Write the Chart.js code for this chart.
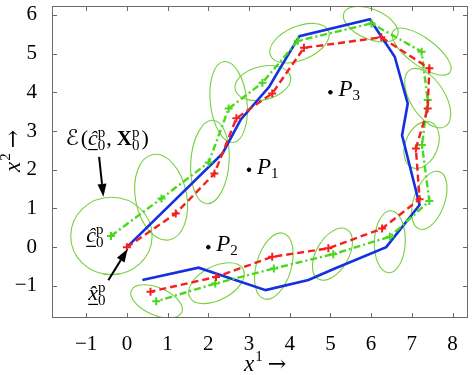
<!DOCTYPE html>
<html>
<head>
<meta charset="utf-8">
<script src="https://cdn.jsdelivr.net/npm/chart.js@4.4.1/dist/chart.umd.min.js"></script>
<style>
  html, body { margin: 0; padding: 0; background: #fff; }
</style>
</head>
<body>
<canvas id="chart" width="474" height="375"></canvas>
<script>
// tick labels
const xTicks = [-1, 0, 1, 2, 3, 4, 5, 6, 7, 8];
const yTicks = [-1, 0, 1, 2, 3, 4, 5, 6];

// true trajectory (blue)
const blueX = [0, 2.35, 2.8, 3.5, 3.75, 4.24, 5.97, 6.58, 6.9, 6.76, 7.19, 6.37, 5.11, 4.46, 3.41, 1.76, 0.38];
const blueY = [0, 2.42, 3.3, 4.15, 4.6, 5.45, 5.89, 4.92, 3.71, 2.89, 1.09, 0.0, -0.55, -0.85, -1.11, -0.53, -0.85];

// estimate (red, dashed)
const redX = [0, 1.2, 2.15, 2.69, 3.57, 4.35, 6.25, 7.43, 7.39, 7.1, 7.19, 6.27, 4.95, 3.57, 2.19, 0.58];
const redY = [0, 0.87, 1.9, 3.33, 3.97, 5.15, 5.42, 4.62, 3.58, 2.55, 1.24, 0.48, -0.03, -0.25, -0.77, -1.15];

// ellipse centres (green, dash-dot)
const greenX = [-0.39, 0.85, 2.01, 2.5, 3.33, 4.2, 6.01, 7.24, 7.39, 7.25, 7.43, 6.46, 5.07, 3.61, 2.17, 0.72];
const greenY = [0.29, 1.26, 2.19, 3.58, 4.25, 5.33, 5.78, 5.05, 3.8, 2.64, 1.19, 0.27, -0.18, -0.55, -0.94, -1.4];

// uncertainty ellipses: centre, half axes, angle (deg)
const ellCx = [-0.38, 0.84, 2.04, 2.5, 3.34, 4.24, 5.99, 7.24, 7.39, 7.24, 7.43, 6.46, 5.05, 3.61, 2.2, 0.73];
const ellCy = [0.29, 1.29, 2.2, 3.75, 4.24, 5.27, 5.76, 5.05, 3.85, 2.64, 1.21, 0.14, -0.18, -0.49, -0.93, -1.4];
const ellA = [1.0, 1.12, 1.08, 1.05, 0.7, 0.78, 0.72, 0.88, 0.85, 0.63, 0.78, 0.8, 0.73, 0.88, 0.75, 0.68];
const ellB = [1.0, 0.63, 0.47, 0.45, 0.43, 0.43, 0.38, 0.35, 0.43, 0.4, 0.38, 0.38, 0.4, 0.43, 0.43, 0.35];
const ellAng = [0, 100, 86, 96, 15, 25, -25, -38, -60, 70, 72, 88, 62, 75, 30, -25];

// marked points
const pointNames = ["1", "2", "3"];
const pointX = [3, 2, 5];
const pointY = [2, 0, 4];

const SERIF = '"Liberation Serif", "DejaVu Serif", "DejaVu Sans", serif';
const ARROWFONT = '"DejaVu Serif", "DejaVu Sans", serif';
const BLUE = "#1530e0";
const RED = "#f42020";
const GREEN = "#48d81c";
const ELLIPSE = "#78d040";

const toXY = (xs, ys) => xs.map((v, i) => ({ x: v, y: ys[i] }));

function richText(ctx, x, y, parts) {
  let cx = x;
  for (const p of parts) {
    ctx.font = p.font;
    const w = ctx.measureText(p.t).width;
    ctx.fillText(p.t, cx + (p.dx || 0), y + (p.dy || 0));
    if (p.ul) {
      ctx.fillRect(cx + (p.dx || 0), y + p.ul, w, 1.2);
    }
    if (!p.stay) cx += w + (p.dx || 0);
  }
  return cx;
}

function arrow(ctx, x0, y0, x1, y1) {
  const ang = Math.atan2(y1 - y0, x1 - x0);
  const len = 13, half = 4.5;
  const bx = x1 - len * Math.cos(ang), by = y1 - len * Math.sin(ang);
  ctx.beginPath();
  ctx.moveTo(x0, y0);
  ctx.lineTo(bx, by);
  ctx.stroke();
  ctx.beginPath();
  ctx.moveTo(x1, y1);
  ctx.lineTo(bx + half * Math.sin(ang), by - half * Math.cos(ang));
  ctx.lineTo(bx - half * Math.sin(ang), by + half * Math.cos(ang));
  ctx.closePath();
  ctx.fill();
}

const ellipsePlugin = {
  id: "ellipses",
  beforeDatasetsDraw(chart) {
    const { ctx, chartArea: a, scales: { x, y } } = chart;
    const sx = x.getPixelForValue(1) - x.getPixelForValue(0);
    const sy = y.getPixelForValue(0) - y.getPixelForValue(1);
    ctx.save();
    ctx.beginPath();
    ctx.rect(a.left, a.top, a.right - a.left, a.bottom - a.top);
    ctx.clip();
    ctx.strokeStyle = ELLIPSE;
    ctx.lineWidth = 1.1;
    ellCx.forEach((cx, i) => {
      ctx.save();
      ctx.translate(x.getPixelForValue(cx), y.getPixelForValue(ellCy[i]));
      ctx.scale(sx, -sy);
      ctx.rotate((ellAng[i] * Math.PI) / 180);
      ctx.beginPath();
      ctx.ellipse(0, 0, ellA[i], ellB[i], 0, 0, 2 * Math.PI);
      ctx.restore();
      ctx.stroke();
    });
    ctx.restore();
  },
};

const framePlugin = {
  id: "frame",
  afterDraw(chart) {
    const { ctx, chartArea: a, scales: { x, y } } = chart;
    ctx.save();
    ctx.strokeStyle = "#6a6a6a";
    ctx.lineWidth = 1;
    ctx.strokeRect(a.left + 0.5, a.top + 0.5, a.right - a.left - 1, a.bottom - a.top - 1);
    ctx.beginPath();
    xTicks.forEach((v) => {
      const px = Math.round(x.getPixelForValue(v)) + 0.5;
      ctx.moveTo(px, a.bottom);
      ctx.lineTo(px, a.bottom - 5);
      ctx.moveTo(px, a.top);
      ctx.lineTo(px, a.top + 5);
    });
    yTicks.forEach((v) => {
      const py = Math.round(y.getPixelForValue(v)) + 0.5;
      ctx.moveTo(a.left, py);
      ctx.lineTo(a.left + 5, py);
      ctx.moveTo(a.right, py);
      ctx.lineTo(a.right - 5, py);
    });
    ctx.stroke();
    ctx.restore();
  },
};

const labelPlugin = {
  id: "labels",
  afterDatasetsDraw(chart) {
    const { ctx, scales: { x, y } } = chart;
    const px = (v) => x.getPixelForValue(v);
    const py = (v) => y.getPixelForValue(v);
    ctx.save();
    ctx.fillStyle = "#000";
    ctx.strokeStyle = "#000";
    ctx.lineWidth = 2;
    ctx.textBaseline = "alphabetic";
    ctx.textAlign = "left";

    // P1..P3
    pointNames.forEach((n, i) => {
      richText(ctx, px(pointX[i]) + 8, py(pointY[i]) + 4, [
        { t: "P", font: `italic 23px ${SERIF}` },
        { t: n, font: `15px ${SERIF}`, dy: 4 },
      ]);
    });

    // ellipse annotation
    richText(ctx, px(-1.51), py(2.64), [
      { t: "\u2130", font: `italic 22px ${SERIF}` },
      { t: "(", font: `22px ${SERIF}`, dx: 2 },
      { t: "\u0109", font: `italic 22px ${SERIF}`, ul: 4 },
      { t: "p", font: `15px ${SERIF}`, dy: -8, stay: true },
      { t: "0", font: `15px ${SERIF}`, dy: 5 },
      { t: ",", font: `22px ${SERIF}`, dx: 1 },
      { t: "X", font: `bold 21px ${SERIF}`, dx: 5 },
      { t: "p", font: `15px ${SERIF}`, dy: -8, stay: true },
      { t: "0", font: `15px ${SERIF}`, dy: 5 },
      { t: ")", font: `22px ${SERIF}`, dx: 2 },
    ]);
    arrow(ctx, px(-0.683), py(2.33), px(-0.578), py(1.3));

    // c hat label
    richText(ctx, px(-1.0), py(0.14), [
      { t: "\u0109", font: `italic 22px ${SERIF}`, ul: 4 },
      { t: "p", font: `15px ${SERIF}`, dy: -8, stay: true },
      { t: "0", font: `15px ${SERIF}`, dy: 5 },
    ]);

    // x hat label
    richText(ctx, px(-0.95), py(-1.36), [
      { t: "x\u0302", font: `italic 22px ${SERIF}`, ul: 4 },
      { t: "p", font: `15px ${SERIF}`, dy: -8, stay: true },
      { t: "0", font: `15px ${SERIF}`, dy: 5 },
    ]);
    arrow(ctx, px(-0.456), py(-0.853), px(0.017), py(-0.05));

    ctx.restore();
  },
  afterDraw(chart) {
    const { ctx } = chart;
    ctx.save();
    ctx.fillStyle = "#000";
    ctx.textBaseline = "alphabetic";
    // x axis title
    richText(ctx, 244, 371, [
      { t: "x", font: `italic 23px ${SERIF}` },
      { t: "1", font: `15px ${SERIF}`, dy: -10, dx: 1 },
      { t: "\u2192", font: `22px ${ARROWFONT}`, dx: 5 },
    ]);
    // y axis title
    ctx.translate(20, 172);
    ctx.rotate(-Math.PI / 2);
    richText(ctx, 0, 0, [
      { t: "x", font: `italic 23px ${SERIF}` },
      { t: "2", font: `15px ${SERIF}`, dy: -10, dx: 1 },
      { t: "\u2192", font: `22px ${ARROWFONT}`, dx: 5 },
    ]);
    ctx.restore();
  },
};

const fmt = (v) => String(v).replace("-", "\u2212");

new Chart(document.getElementById("chart"), {
  type: "scatter",
  data: {
    datasets: [
      {
        label: "estimate",
        data: toXY(redX, redY),
        showLine: true,
        borderColor: RED,
        backgroundColor: RED,
        borderWidth: 2.4,
        borderDash: [7, 4],
        pointStyle: "cross",
        pointRadius: 4,
        pointBorderWidth: 2,
        pointBorderColor: RED,
      },
      {
        label: "centre",
        data: toXY(greenX, greenY),
        showLine: true,
        borderColor: GREEN,
        backgroundColor: GREEN,
        borderWidth: 2.4,
        borderDash: [7, 3, 2, 3],
        pointStyle: "cross",
        pointRadius: 4,
        pointBorderWidth: 2,
        pointBorderColor: GREEN,
      },
      {
        label: "true",
        data: toXY(blueX, blueY),
        showLine: true,
        borderColor: BLUE,
        borderWidth: 2.6,
        pointRadius: 0,
      },
      {
        label: "points",
        data: toXY(pointX, pointY),
        pointRadius: 1.8,
        backgroundColor: "#000",
        borderColor: "#000",
      },
    ],
  },
  options: {
    responsive: false,
    animation: false,
    devicePixelRatio: 1,
    layout: { padding: { top: 6, right: 4, left: 0, bottom: 0 } },
    plugins: {
      legend: { display: false },
      tooltip: { enabled: false },
    },
    scales: {
      x: {
        type: "linear",
        min: -1.84,
        max: 8.38,
        grid: { display: false },
        border: { display: false },
        afterBuildTicks: (scale) => {
          scale.ticks = xTicks.map((v) => ({ value: v }));
        },
        afterFit: (scale) => {
          scale.height = 57;
          scale.paddingLeft = 0;
          scale.paddingRight = 0;
        },
        ticks: {
          color: "#000",
          padding: 6,
          maxRotation: 0,
          font: { family: SERIF, size: 21 },
          callback: fmt,
        },
      },
      y: {
        type: "linear",
        min: -1.83,
        max: 6.23,
        grid: { display: false },
        border: { display: false },
        afterBuildTicks: (scale) => {
          scale.ticks = yTicks.map((v) => ({ value: v }));
        },
        afterFit: (scale) => {
          scale.width = 52;
          scale.paddingTop = 0;
          scale.paddingBottom = 0;
        },
        ticks: {
          color: "#000",
          padding: 7,
          font: { family: SERIF, size: 21 },
          callback: fmt,
        },
      },
    },
  },
  plugins: [ellipsePlugin, labelPlugin, framePlugin],
});
</script>
</body>
</html>
